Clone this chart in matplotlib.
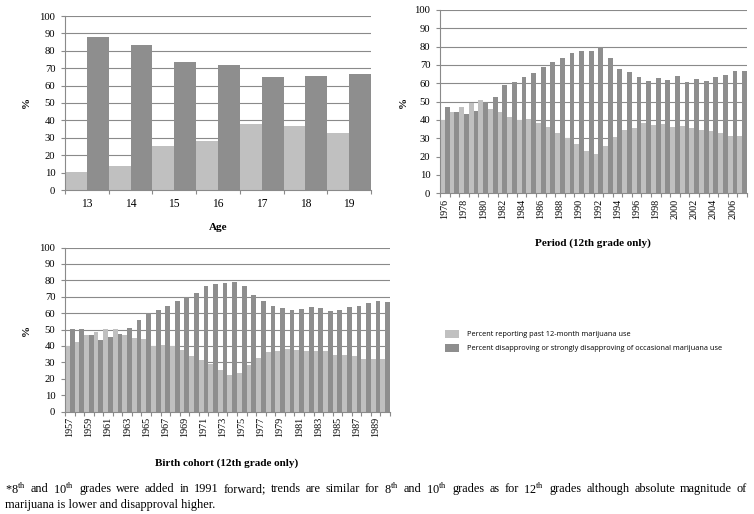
##----------Importing necessary packages-------------
import numpy as np
import matplotlib
matplotlib.use("Agg")
import matplotlib.pyplot as plt
from matplotlib.patches import Patch
##--------------------------------------------------

##-----------Data------------------------------------------------------------
ages = [13, 14, 15, 16, 17, 18, 19]
age_use = [10.2, 14.0, 25.3, 28.4, 37.9, 37.0, 32.6]
age_disapprove = [87.7, 83.3, 73.6, 72.0, 64.8, 65.3, 66.7]

period_years = list(range(1976, 2008))
period_use = [40.0, 44.2, 47.3, 49.5, 51.0, 46.0, 44.2, 41.8, 40.0, 40.5, 38.5,
              36.0, 32.7, 30.0, 26.9, 23.0, 21.5, 25.8, 30.5, 34.5, 35.6, 38.2,
              37.1, 37.6, 36.2, 36.9, 35.8, 34.4, 34.2, 32.9, 31.3, 31.3]
period_disapprove = [47.3, 44.2, 43.3, 45.0, 49.6, 52.4, 59.3, 60.5, 63.3, 65.8,
                     68.7, 71.6, 73.8, 76.7, 77.6, 77.6, 79.6, 73.8, 67.8, 66.0,
                     63.3, 61.5, 62.7, 61.8, 64.0, 60.9, 62.4, 61.3, 63.3, 64.5,
                     66.9, 66.5]

cohort_years = list(range(1957, 1991))
cohort_use = [40.0, 42.6, 46.5, 48.5, 50.1, 50.1, 46.9, 45.0, 44.0, 40.0, 40.8,
              40.0, 37.5, 34.1, 31.4, 29.0, 25.4, 22.5, 23.5, 28.4, 32.7, 36.3,
              36.7, 38.3, 37.3, 37.1, 36.7, 36.7, 34.7, 34.5, 34.0, 32.0, 32.0, 32.0]
cohort_disapprove = [50.1, 50.1, 46.5, 43.8, 45.2, 47.0, 50.7, 55.8, 60.2, 61.9,
                     64.1, 67.5, 70.0, 72.4, 76.5, 77.5, 78.3, 78.7, 76.5, 71.2,
                     67.1, 64.3, 63.1, 61.9, 62.5, 63.5, 62.9, 61.5, 61.9, 63.5,
                     64.5, 66.1, 67.1, 66.7]

legend_labels = ["Percent reporting past 12-month marijuana use",
                 "Percent disapproving or strongly disapproving of occasional marijuana use"]
##---------------------------------------------------------------------------

LIGHT = "#c0c0c0"
DARK = "#8e8e8e"
GRID = "#8a8a8a"
SERIF = "Liberation Serif"

plt.rcParams["mathtext.fontset"] = "custom"
plt.rcParams["mathtext.rm"] = SERIF

W, H = 754, 514
fig = plt.figure(figsize=(W / 100, H / 100), dpi=100)

def px_axes(x0, y0, x1, y1):
    # axes from pixel box (top-left origin)
    return fig.add_axes([x0 / W, 1 - y1 / H, (x1 - x0) / W, (y1 - y0) / H])

def draw_panel(ax, cats, use, dis, label_step, rotate, fs):
    n = len(cats)
    x = np.arange(n)
    ax.bar(x - 0.25, use, width=0.5, color=LIGHT, zorder=2)
    ax.bar(x + 0.25, dis, width=0.5, color=DARK, zorder=2)
    ax.set_xlim(-0.5, n - 0.5)
    ax.set_ylim(0, 100)
    ax.set_yticks(range(0, 101, 10))
    ax.yaxis.grid(True, color=GRID, linewidth=0.8, zorder=0)
    ax.set_axisbelow(True)
    for s in ["top", "right"]:
        ax.spines[s].set_visible(False)
    for s in ["left", "bottom"]:
        ax.spines[s].set_color(GRID)
        ax.spines[s].set_linewidth(0.8)
    # boundary ticks (major, no labels) + centred labels (minor, no tick)
    ax.set_xticks(np.arange(n + 1) - 0.5)
    ax.set_xticklabels([])
    ax.set_xticks(x[::label_step], minor=True)
    ax.set_xticklabels([str(c) for c in cats[::label_step]], minor=True,
                       rotation=90 if rotate else 0, family=SERIF, fontsize=fs)
    ax.tick_params(axis="x", which="major", length=3, color=GRID, width=0.8)
    ax.tick_params(axis="x", which="minor", length=0, pad=6 if not rotate else 4)
    ax.tick_params(axis="y", length=3, color=GRID, width=0.8, pad=4)
    for t in ax.get_yticklabels():
        t.set_family(SERIF)
        t.set_fontsize(7.7)

##-------------------------Age panel-----------------------------------
ax1 = px_axes(65, 16, 371, 190)
draw_panel(ax1, ages, age_use, age_disapprove, 1, False, 8.3)
fig.text(26 / W, 1 - 103 / H, "%", rotation=90, family=SERIF, fontsize=8,
         fontweight="bold", ha="center", va="center")
fig.text(218 / W, 1 - 228 / H, "Age", family=SERIF, fontsize=8,
         fontweight="bold", ha="center", va="center")

##-------------------------Period panel--------------------------------
ax2 = px_axes(440, 10, 747, 193.3)
draw_panel(ax2, period_years, period_use, period_disapprove, 2, True, 7.3)
fig.text(403 / W, 1 - 103 / H, "%", rotation=90, family=SERIF, fontsize=8,
         fontweight="bold", ha="center", va="center")
fig.text(593 / W, 1 - 243 / H, "Period (12th grade only)", family=SERIF,
         fontsize=8, fontweight="bold", ha="center", va="center")

##-------------------------Birth cohort panel--------------------------
ax3 = px_axes(65, 247.5, 390, 411.5)
draw_panel(ax3, cohort_years, cohort_use, cohort_disapprove, 2, True, 7.3)
fig.text(26 / W, 1 - 330 / H, "%", rotation=90, family=SERIF, fontsize=8,
         fontweight="bold", ha="center", va="center")
fig.text(227 / W, 1 - 463 / H, "Birth cohort (12th grade only)", family=SERIF,
         fontsize=8, fontweight="bold", ha="center", va="center")

##-------------------------Legend---------------------------------------
handles = [Patch(facecolor=LIGHT, edgecolor="none"),
           Patch(facecolor=DARK, edgecolor="none")]
fig.legend(handles, legend_labels, loc="upper left",
           bbox_to_anchor=(438 / W, 1 - 323 / H), frameon=False,
           prop={"family": "Open Sans", "size": 5.3}, handlelength=2.0,
           handleheight=1.3, handletextpad=1.1, labelspacing=0.75)

##-------------------------Footnote (justified first line)--------------
line1 = (r"*8$^{\mathrm{th}}$ and 10$^{\mathrm{th}}$ grades were added in 1991 forward; "
         r"trends are similar for 8$^{\mathrm{th}}$ and 10$^{\mathrm{th}}$ grades as for "
         r"12$^{\mathrm{th}}$ grades although absolute magnitude of")
line2 = "marijuana is lower and disapproval higher."
renderer = fig.canvas.get_renderer()
words = line1.split(" ")
texts = [fig.text(0, 1 - 489 / H, w, family=SERIF, fontsize=8.8, va="center")
         for w in words]
widths = [t.get_window_extent(renderer).width for t in texts]
gap = (742 - sum(widths)) / (len(words) - 1)
xpos = 5
for t, w in zip(texts, widths):
    t.set_x(xpos / W)
    xpos += w + gap
fig.text(5 / W, 1 - 505 / H, line2, family=SERIF, fontsize=8.8, va="center")

plt.savefig("out.png", dpi=100)
